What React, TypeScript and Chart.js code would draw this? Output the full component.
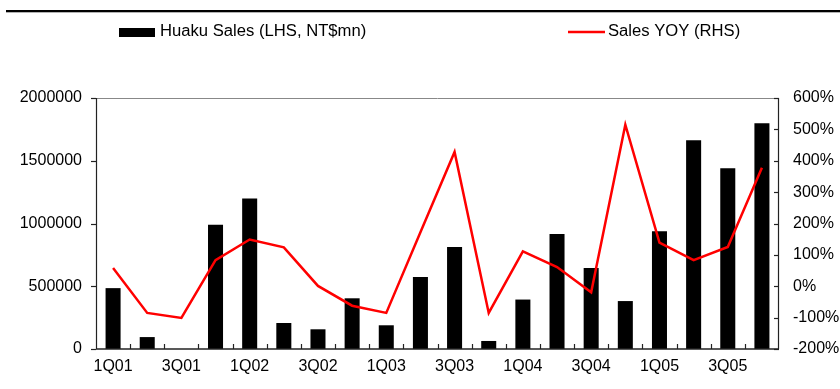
import React, { useEffect, useRef } from "react";
import { Chart, registerables } from "chart.js";

Chart.register(...registerables);

const categories = [
  "1Q01", "2Q01", "3Q01", "4Q01",
  "1Q02", "2Q02", "3Q02", "4Q02",
  "1Q03", "2Q03", "3Q03", "4Q03",
  "1Q04", "2Q04", "3Q04", "4Q04",
  "1Q05", "2Q05", "3Q05", "4Q05",
];

const salesValues = [
  485000, 95000, 0, 990000,
  1200000, 207000, 157000, 404000,
  189000, 574000, 813000, 64000,
  394000, 916000, 645000, 382000,
  938000, 1663000, 1440000, 1798000,
];

const yoyValues = [
  58, -85, -101, 83,
  149, 124, 1, -62,
  -85, 172, 428, -85,
  111, 61, -19, 515,
  139, 83, 125, 378,
];

const salesLabel = "Huaku Sales (LHS, NT$mn)";
const yoyLabel = "Sales YOY (RHS)";

const FONT = "'Liberation Sans', Arial, sans-serif";

function drawScaledText(ctx: any, text: string, x: number, y: number, sx: number) {
  ctx.save();
  ctx.translate(x, y);
  ctx.scale(sx, 1);
  ctx.fillText(text, 0, 0);
  ctx.restore();
}

const decorPlugin = {
  id: "decor",
  afterDraw(chart: any) {
    const { ctx, chartArea } = chart;
    const { left, right, top, bottom } = chartArea;
    const x = chart.scales.x;
    const y = chart.scales.y;
    const y1 = chart.scales.y1;
    ctx.save();
    // top rule
    ctx.fillStyle = "#000";
    ctx.fillRect(6, 10, 834, 2.3);

    // top gray line
    ctx.strokeStyle = "#888";
    ctx.lineWidth = 1;
    ctx.beginPath();
    ctx.moveTo(left, Math.round(top) + 0.5);
    ctx.lineTo(right, Math.round(top) + 0.5);
    ctx.stroke();

    ctx.strokeStyle = "#222";
    ctx.lineWidth = 1.2;
    // left axis
    ctx.beginPath();
    ctx.moveTo(left + 0.5, top);
    ctx.lineTo(left + 0.5, bottom);
    ctx.stroke();
    y.ticks.forEach((t: any) => {
      const py = Math.round(y.getPixelForValue(t.value)) + 0.5;
      ctx.beginPath();
      ctx.moveTo(left - 5, py);
      ctx.lineTo(left, py);
      ctx.stroke();
    });
    // right axis
    ctx.beginPath();
    ctx.moveTo(right - 0.5, top);
    ctx.lineTo(right - 0.5, bottom);
    ctx.stroke();
    y1.ticks.forEach((t: any) => {
      const py = Math.round(y1.getPixelForValue(t.value)) + 0.5;
      ctx.beginPath();
      ctx.moveTo(right - 5, py);
      ctx.lineTo(right, py);
      ctx.stroke();
    });
    // bottom axis
    ctx.lineWidth = 1.6;
    ctx.beginPath();
    ctx.moveTo(left, bottom);
    ctx.lineTo(right, bottom);
    ctx.stroke();
    ctx.lineWidth = 1.2;
    const n = categories.length;
    const w = x.getPixelForValue(1) - x.getPixelForValue(0);
    for (let i = 1; i < n; i++) {
      const px = Math.round(x.getPixelForValue(i) - w / 2) + 0.5;
      ctx.beginPath();
      ctx.moveTo(px, bottom);
      ctx.lineTo(px, bottom - 5);
      ctx.stroke();
    }

    // legend
    ctx.font = `16px ${FONT}`;
    ctx.textBaseline = "middle";
    ctx.textAlign = "left";
    ctx.fillStyle = "#000";
    ctx.fillRect(119, 28, 36, 9);
    drawScaledText(ctx, chart.data.datasets[0].label, 160, 31.5, 1.04);
    ctx.strokeStyle = "#ff0000";
    ctx.lineWidth = 2.5;
    ctx.beginPath();
    ctx.moveTo(568, 32);
    ctx.lineTo(605, 32);
    ctx.stroke();
    ctx.fillStyle = "#000";
    drawScaledText(ctx, chart.data.datasets[1].label, 608, 31.5, 1.04);
    ctx.restore();
  },
};

export default function App() {
  const ref = useRef<HTMLCanvasElement | null>(null);
  useEffect(() => {
    if (!ref.current) return;
    const chart = new Chart(ref.current, {
      type: "bar",
      data: {
        labels: categories,
        datasets: [
          {
            type: "bar",
            label: salesLabel,
            data: salesValues,
            backgroundColor: "#000",
            borderWidth: 0,
            categoryPercentage: 1,
            barPercentage: 0.44,
            yAxisID: "y",
            order: 1,
          },
          {
            type: "line",
            label: yoyLabel,
            data: yoyValues,
            borderColor: "#ff0000",
            borderWidth: 2.5,
            pointRadius: 0,
            tension: 0,
            fill: false,
            yAxisID: "y1",
            order: 0,
          } as any,
        ],
      },
      options: {
        responsive: false,
        animation: false,
        layout: { padding: { top: 98, left: 0, right: 0, bottom: 0 } },
        plugins: { legend: { display: false }, tooltip: { enabled: false } },
        scales: {
          x: {
            offset: true,
            grid: { display: false, drawTicks: false },
            border: { display: false },
            ticks: {
              autoSkip: false,
              maxRotation: 0,
              minRotation: 0,
              padding: 8,
              color: "#000",
              font: { family: FONT, size: 16 },
              callback: (_v: any, i: number) => (i % 2 === 0 ? categories[i] : ""),
            },
            afterFit: (s: any) => { s.height = 40; },
          },
          y: {
            position: "left",
            min: 0,
            max: 2000000,
            grid: { display: false, drawTicks: false },
            border: { display: false },
            ticks: {
              stepSize: 500000,
              padding: 14,
              color: "#000",
              font: { family: FONT, size: 16 },
              callback: (v: any) => String(v),
            },
            afterFit: (s: any) => { s.width = 96; },
          },
          y1: {
            position: "right",
            min: -200,
            max: 600,
            grid: { display: false, drawTicks: false },
            border: { display: false },
            ticks: {
              stepSize: 100,
              padding: 14,
              color: "#000",
              font: { family: FONT, size: 16 },
              callback: (v: any) => `${v}%`,
            },
            afterFit: (s: any) => { s.width = 61; },
          },
        },
      },
      plugins: [decorPlugin],
    });
    return () => chart.destroy();
  }, []);
  return (
    <div style={{ position: "fixed", left: 0, top: 0, width: 840, height: 389, background: "#fff" }}>
      <canvas ref={ref} width={840} height={389} style={{ display: "block" }} />
    </div>
  );
}
